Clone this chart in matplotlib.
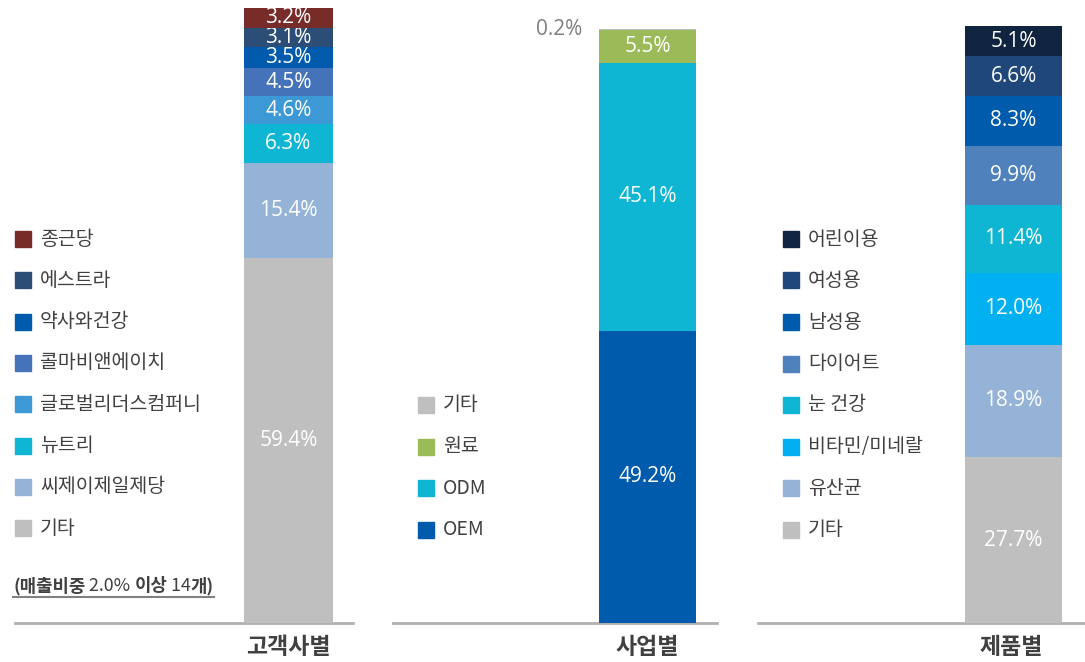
import numpy as np
import matplotlib
matplotlib.use("Agg")
import matplotlib.pyplot as plt
from matplotlib.patches import Rectangle
from matplotlib.lines import Line2D

plt.rcParams['font.family'] = ['Noto Sans CJK KR', 'DejaVu Sans']

# --- data (stack order: bottom -> top) ---
cust_names = ['기타', '씨제이제일제당', '뉴트리', '글로벌리더스컴퍼니', '콜마비앤에이치', '약사와건강', '에스트라', '종근당']
cust_vals = [59.4, 15.4, 6.3, 4.6, 4.5, 3.5, 3.1, 3.2]
cust_colors = ['#BFBFBF', '#95B3D7', '#0EB6D3', '#3D98D6', '#4573B9', '#005BAC', '#2C4D75', '#772C2A']

biz_names = ['OEM', 'ODM', '원료', '기타']
biz_vals = [49.2, 45.1, 5.5, 0.2]
biz_colors = ['#005BAC', '#0EB6D3', '#9BBB59', '#BFBFBF']

prod_names = ['기타', '유산균', '비타민/미네랄', '눈 건강', '다이어트', '남성용', '여성용', '어린이용']
prod_vals = [27.7, 18.9, 12.0, 11.4, 9.9, 8.3, 6.6, 5.1]
prod_colors = ['#BFBFBF', '#95B3D7', '#00B0F0', '#0EB6D3', '#4F81BD', '#005BAC', '#1F477A', '#10243F']

titles = ['고객사별', '사업별', '제품별']
note_parts = [('(매출비중', 'bold'), (' 2.0% ', 'normal'), ('이상', 'bold'), (' 14', 'normal'), ('개)', 'bold')]

W, H = 1085, 662
fig = plt.figure(figsize=(W / 100, H / 100), dpi=100)
TXT = '#404040'
NUM_FONT = ['Open Sans', 'Noto Sans CJK KR']


def fx(x):
    return x / W


def fy(y):
    return 1 - y / H


def panel(left, right, top, bar_l, bar_r, names, vals, colors,
          leg_x, leg_y0, leg_step, title, title_x, skip_small=None):
    ax = fig.add_axes([fx(left), fy(623), (right - left) / W, (623 - top) / H])
    ax.set_xlim(left, right)
    ax.set_ylim(0, 100)
    ax.axis('off')
    bottoms = np.concatenate([[0], np.cumsum(vals)[:-1]])
    cx = (bar_l + bar_r) / 2
    for v, b, c in zip(vals, bottoms, colors):
        bars = ax.bar(cx, v, bottom=b, width=bar_r - bar_l, color=c, zorder=3)
        if skip_small is not None and v <= skip_small:
            ax.annotate(f'{v:.1f}%', xy=(bar_l, b + v / 2), xytext=(-17, 0),
                        textcoords='offset pixels', ha='right', va='center',
                        color='#7F7F7F', fontsize=15, family=NUM_FONT)
        else:
            ax.bar_label(bars, labels=[f'{v:.1f}%'], label_type='center',
                         color='white', fontsize=15, family=NUM_FONT)
    ax.axhline(0, color='#B0B0B0', lw=2, zorder=2, clip_on=False)
    # legend (top of stack first)
    for i, (n, c) in enumerate(zip(names[::-1], colors[::-1])):
        yc = leg_y0 + i * leg_step
        fig.add_artist(Rectangle((fx(leg_x), fy(yc + 8)), 16 / W, 16 / H,
                                 color=c, transform=fig.transFigure))
        fig.text(fx(leg_x + 25), fy(yc), n, fontsize=14, color=TXT,
                 va='center', ha='left')
    fig.text(fx(title_x), fy(647), title, fontsize=16.5, fontweight='bold',
             color=TXT, ha='center', va='center')
    return ax


panel(15, 353, 8, 244, 333, cust_names, cust_vals, cust_colors,
      15, 239, 41.3, titles[0], 288)
panel(393, 717, 29, 599, 696, biz_names, biz_vals, biz_colors,
      418, 405, 41.5, titles[1], 647, skip_small=0.5)
panel(758, 1085, 25.4, 965, 1062, prod_names, prod_vals, prod_colors,
      783, 239, 41.5, titles[2], 1011)

# note under the first legend, drawn piece by piece then underlined
fig.canvas.draw()
rend = fig.canvas.get_renderer()
x = 13
for s, w in note_parts:
    t = fig.text(fx(x), fy(586), s, fontsize=12.8, fontweight=w, color=TXT,
                 va='center', ha='left')
    x = t.get_window_extent(rend).x1
fig.add_artist(Line2D([fx(13), fx(x)], [fy(597), fy(597)], color='#808080',
                      lw=1.5, transform=fig.transFigure))

fig.savefig('out.png', dpi=100)
